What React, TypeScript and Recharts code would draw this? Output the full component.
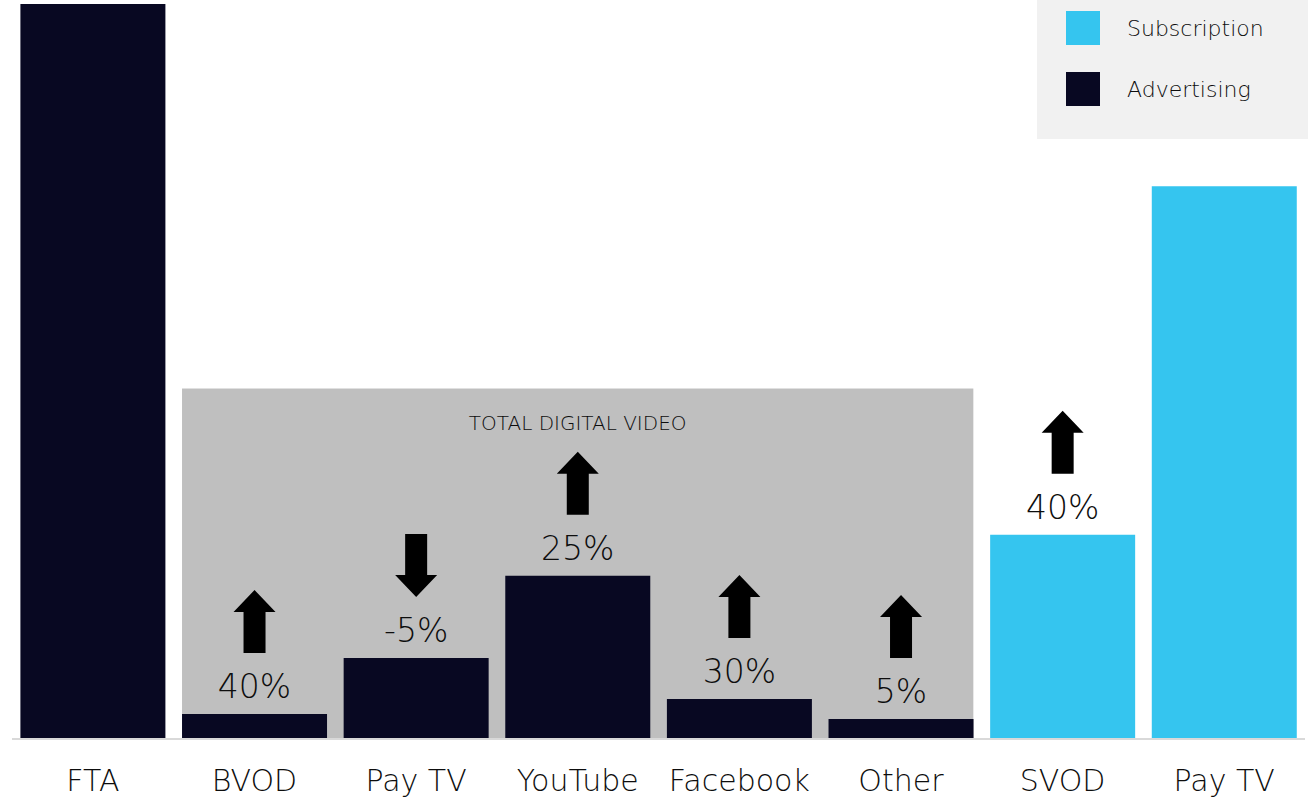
import { Bar, BarChart, LabelList, ReferenceArea, XAxis, YAxis } from "recharts";

document.body.style.margin = "0";

const FONT = "'DejaVu Sans', sans-serif";
const NAVY = "#080822";
const CYAN = "#35c5ef";
const INK = "#0d0d0d";

// revenue, $m
const categories = ["fta", "bvod", "paytv-ad", "youtube", "facebook", "other", "svod", "paytv-sub"];
const categoryLabels = ["FTA", "BVOD", "Pay TV", "YouTube", "Facebook", "Other", "SVOD", "Pay TV"];
const advertising = [3670, 125, 405, 815, 200, 100, null, null];
const subscription = [null, null, null, null, null, null, 1020, 2760];
const growth = [null, "40%", "-5%", "25%", "30%", "5%", "40%", null];
const digitalVideoTotal = 1750;
const yMax = 3670;

const data = categories.map((key, i) => ({
  key,
  advertising: advertising[i],
  subscription: subscription[i],
  adGrowth: advertising[i] != null ? growth[i] : null,
  subGrowth: subscription[i] != null ? growth[i] : null,
}));

function GrowthLabel(props: any) {
  const { value } = props;
  if (value == null) return null;
  const vb = props.viewBox ?? props;
  const cx = vb.x + vb.width / 2;
  const top = vb.y;
  const down = String(value).startsWith("-");
  const a0 = top - 124;
  const a1 = top - 61;
  const head = 22;
  const points = down
    ? [
        [cx - 11, a0], [cx + 11, a0], [cx + 11, a1 - head], [cx + 21, a1 - head],
        [cx, a1], [cx - 21, a1 - head], [cx - 11, a1 - head],
      ]
    : [
        [cx, a0], [cx + 21, a0 + head], [cx + 11, a0 + head], [cx + 11, a1],
        [cx - 11, a1], [cx - 11, a0 + head], [cx - 21, a0 + head],
      ];
  return (
    <g>
      <polygon points={points.map((p) => p.join(",")).join(" ")} fill="#000" />
      <text
        x={cx}
        y={top - 16}
        textAnchor="middle"
        fontSize={33}
        fontWeight={300}
        fill={INK}
        fontFamily={FONT}
      >
        {value}
      </text>
    </g>
  );
}

function DigitalVideoArea(props: any) {
  const { x, y, width, height } = props;
  const inset = (width / 5) * 0.052;
  return (
    <g>
      <rect x={x + inset} y={y} width={width - inset * 2} height={height} fill="#bfbfbf" />
      <text
        x={x + width / 2}
        y={y + 41}
        textAnchor="middle"
        fontSize={20}
        fontWeight={300}
        fill={INK}
        fontFamily={FONT}
      >
        TOTAL DIGITAL VIDEO
      </text>
    </g>
  );
}

function CategoryTick(props: any) {
  const { x, y, payload } = props;
  return (
    <text x={x} y={y + 52} textAnchor="middle" fontSize={30} fontWeight={300} fill={INK} fontFamily={FONT}>
      {categoryLabels[categories.indexOf(payload.value)]}
    </text>
  );
}

const legendItems = [
  { label: "Subscription", color: CYAN },
  { label: "Advertising", color: NAVY },
];

export default function App() {
  return (
    <div style={{ position: "relative", width: 1308, height: 798, background: "#fff" }}>
      <BarChart
        width={1308}
        height={798}
        data={data}
        margin={{ top: 4, right: 3, bottom: 0, left: 12 }}
        barCategoryGap="5.2%"
      >
        <XAxis
          dataKey="key"
          height={59}
          tickSize={0}
          tickMargin={0}
          tickLine={false}
          axisLine={{ stroke: "#d9d9d9", strokeWidth: 2 }}
          tick={<CategoryTick />}
          interval={0}
        />
        <YAxis hide domain={[0, yMax]} />
        <ReferenceArea
          x1="bvod"
          x2="other"
          y1={0}
          y2={digitalVideoTotal}
          shape={<DigitalVideoArea />}
        />
        <Bar dataKey="advertising" stackId="a" fill={NAVY} isAnimationActive={false}>
          <LabelList dataKey="adGrowth" content={<GrowthLabel />} />
        </Bar>
        <Bar dataKey="subscription" stackId="a" fill={CYAN} isAnimationActive={false}>
          <LabelList dataKey="subGrowth" content={<GrowthLabel />} />
        </Bar>
      </BarChart>
      <div
        style={{
          position: "absolute",
          left: 1037,
          top: 0,
          width: 271,
          height: 139,
          background: "#f1f1f1",
          fontFamily: FONT,
          fontWeight: 300,
        }}
      >
        {legendItems.map((item, i) => (
          <div
            key={item.label}
            style={{
              position: "absolute",
              left: 29,
              top: 11 + i * 61,
              height: 34,
              display: "flex",
              alignItems: "center",
            }}
          >
            <div style={{ width: 34, height: 34, background: item.color }} />
            <span style={{ marginLeft: 27, fontSize: 22, color: INK }}>{item.label}</span>
          </div>
        ))}
      </div>
    </div>
  );
}
